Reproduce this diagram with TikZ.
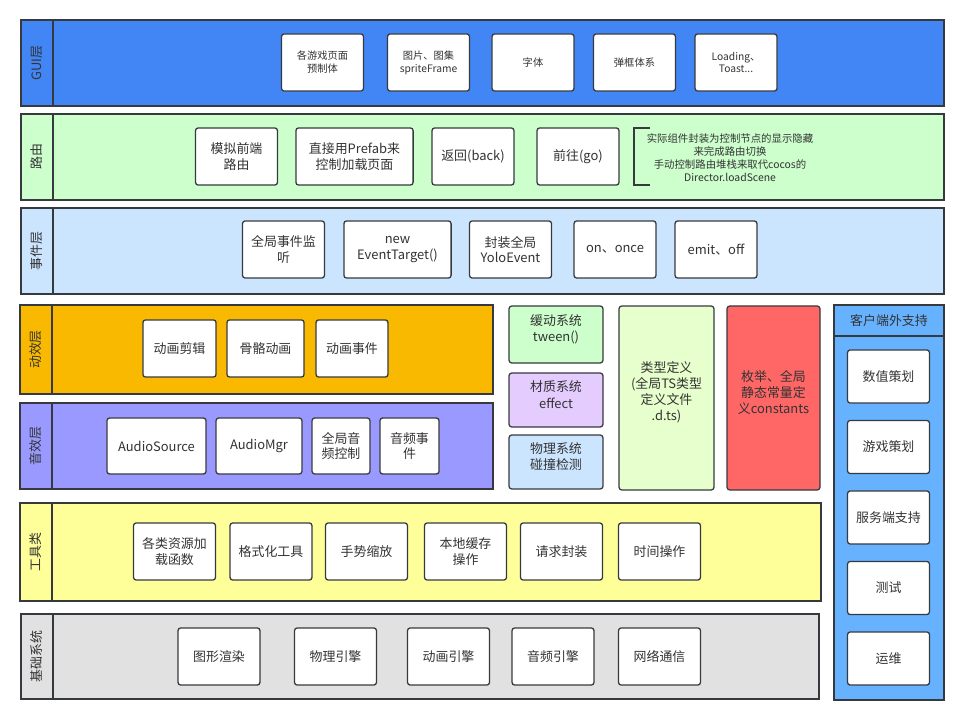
\documentclass[tikz,border=0pt]{standalone}
\usepackage{fontspec}
\setmainfont{Noto Sans CJK SC}
\usepackage{xcolor}
\usetikzlibrary{positioning,fit,calc}

\definecolor{guiblue}{HTML}{4285F4}
\definecolor{routegreen}{HTML}{CCFFCC}
\definecolor{eventblue}{HTML}{CCE5FF}
\definecolor{animorange}{HTML}{F9B900}
\definecolor{audiopurple}{HTML}{9999FF}
\definecolor{toolyellow}{HTML}{FFFF99}
\definecolor{basegray}{HTML}{E1E1E1}
\definecolor{clientblue}{HTML}{66B2FF}
\definecolor{lilac}{HTML}{E5CCFF}
\definecolor{lime}{HTML}{E6FFCC}
\definecolor{enumred}{HTML}{FF6666}
\definecolor{edge}{HTML}{36393D}
\definecolor{txt}{HTML}{333333}

\begin{document}
\begin{tikzpicture}[
  x=0.025cm, y=-0.025cm,
  font=\fontsize{9.2}{11}\selectfont, text=txt,
  layer/.style={draw=edge, line width=1.1pt, inner sep=0pt},
  div/.style={draw=edge, line width=1.1pt},
  tag/.style={rotate=90, font=\fontsize{9.2}{11}\selectfont},
  box/.style={draw=edge, line width=0.9pt, fill=white, rounded corners=2pt, align=center,
              minimum width=2.05cm, minimum height=1.43cm, inner sep=1pt},
  tall/.style={draw=edge, line width=0.9pt, rounded corners=2pt, align=center, inner sep=0pt,
               font=\fontsize{9.2}{11.5}\selectfont},
  small/.style={font=\fontsize{7.3}{9.2}\selectfont},
]
\useasboundingbox (0,0) rectangle (964,720);

% layers
\node[layer, fill=guiblue,     fit={(21,20)(944,106)}]   (gui)   {};
\node[layer, fill=routegreen,  fit={(21,114)(944,200)}]  (route) {};
\node[layer, fill=eventblue,   fit={(21,208)(944,294)}]  (event) {};
\node[layer, fill=animorange,  fit={(20,305)(493,394)}]  (anim)  {};
\node[layer, fill=audiopurple, fit={(20,403)(493,489)}]  (audio) {};
\node[layer, fill=toolyellow,  fit={(20,503)(821,601)}]  (tool)  {};
\node[layer, fill=basegray,    fit={(21,614)(819,699)}]  (base)  {};
\foreach \n/\lab in {gui/GUI层, route/路由, event/事件层, anim/动效层, audio/音效层, tool/工具类, base/基础系统} {
  \draw[div] ([xshift=0.825cm]\n.north west) -- ([xshift=0.825cm]\n.south west);
  \node[tag] at ($(\n.west)+(16.5,0)$) {\lab};
}

% GUI
\node[box, small] (g1) at (322.5,62.5) {各游戏页面\\预制体};
\node[box, small] (g2) at (428.5,62.5) {图片、图集\\spriteFrame};
\node[box, small] (g3) at (533,62.5) {字体};
\node[box, small] (g4) at (634.5,62.5) {弹框体系};
\node[box, small] (g5) at (736,62.5) {Loading、\\Toast...};

% route
\node[box] (r1) at (236.5,156.5) {模拟前端\\路由};
\node[box, minimum width=2.93cm] (r2) at (354.5,156.5) {直接用Prefab来\\控制加载页面};
\node[box] (r3) at (473,156.5) {返回(back)};
\node[box] (r4) at (578,156.5) {前往(go)};
\node[small, align=center, font=\fontsize{7.4}{9.1}\selectfont] (note) at (730,157.5)
  {实际组件封装为控制节点的显示隐藏\\来完成路由切换\\手动控制路由堆栈来取代cocos的\\Director.loadScene};
\draw[edge, line width=1pt] (650,128) -- (634,128) -- (634,185) -- (650,185);

% event
\node[box] (e1) at (283.5,249.5) {全局事件监\\听};
\node[box, minimum width=2.68cm] (e2) at (397.5,249.5) {new\\EventTarget()};
\node[box] (e3) at (510.5,249.5) {封装全局\\YoloEvent};
\node[box] (e4) at (615,249.5) {on、once};
\node[box] (e5) at (716,249.5) {emit、off};

% anim
\node[box, minimum width=1.83cm] (a1) at (179.5,348.5) {动画剪辑};
\node[box, minimum width=1.93cm] (a2) at (265.5,348.5) {骨骼动画};
\node[box, minimum width=1.8cm]  (a3) at (352,348.5) {动画事件};

% audio
\node[box, minimum width=2.48cm, minimum height=1.4cm] (s1) at (156.5,446) {AudioSource};
\node[box, minimum width=2.15cm, minimum height=1.4cm] (s2) at (259,446) {AudioMgr};
\node[box, minimum width=1.45cm, minimum height=1.4cm] (s3) at (341,446) {全局音\\频控制};
\node[box, minimum width=1.48cm, minimum height=1.4cm] (s4) at (409.5,446) {音频事\\件};

% middle column
\node[tall, fill=routegreen, fit={(509,306)(603,363)}] (tween) {缓动系统\\tween()};
\node[tall, fill=lilac,      fit={(509,373)(603,427)}] (mat)   {材质系统\\effect};
\node[tall, fill=eventblue,  fit={(509,435)(603,489)}] (phys)  {物理系统\\碰撞检测};
\node[tall, fill=lime,       fit={(619,306)(714,490)}] (types) {类型定义\\(全局TS类型\\定义文件\\.d.ts)};
\node[tall, fill=enumred,    fit={(727,306)(820,490)}] (enums) {枚举、全局\\静态常量定\\义constants};

% tools
\node[box] (t1) at (174.5,551.5) {各类资源加\\载函数};
\node[box] (t2) at (271,551.5) {格式化工具};
\node[box] (t3) at (366.5,551.5) {手势缩放};
\node[box] (t4) at (465.5,551.5) {本地缓存\\操作};
\node[box] (t5) at (561.5,551.5) {请求封装};
\node[box] (t6) at (659.5,551.5) {时间操作};

% base
\node[box] (b1) at (219,656.5) {图形渲染};
\node[box] (b2) at (335.5,656.5) {物理引擎};
\node[box] (b3) at (448.5,656.5) {动画引擎};
\node[box] (b4) at (553,656.5) {音频引擎};
\node[box] (b5) at (659.5,656.5) {网络通信};

% client support
\node[layer, fill=clientblue, fit={(834,305)(944,700)}] (client) {};
\draw[div] ([yshift=-0.8cm]client.north west) -- ([yshift=-0.8cm]client.north east);
\node (ctitle) at ($(client.north)+(0,16)$) {客户端外支持};
\node[box, minimum height=1.33cm] (c1) at (888.5,376.5) {数值策划};
\node[box, minimum height=1.33cm] (c2) at (888.5,447) {游戏策划};
\node[box, minimum height=1.33cm] (c3) at (888.5,517.5) {服务端支持};
\node[box, minimum height=1.33cm] (c4) at (888.5,588) {测试};
\node[box, minimum height=1.33cm] (c5) at (888.5,658.5) {运维};
\end{tikzpicture}
\end{document}
